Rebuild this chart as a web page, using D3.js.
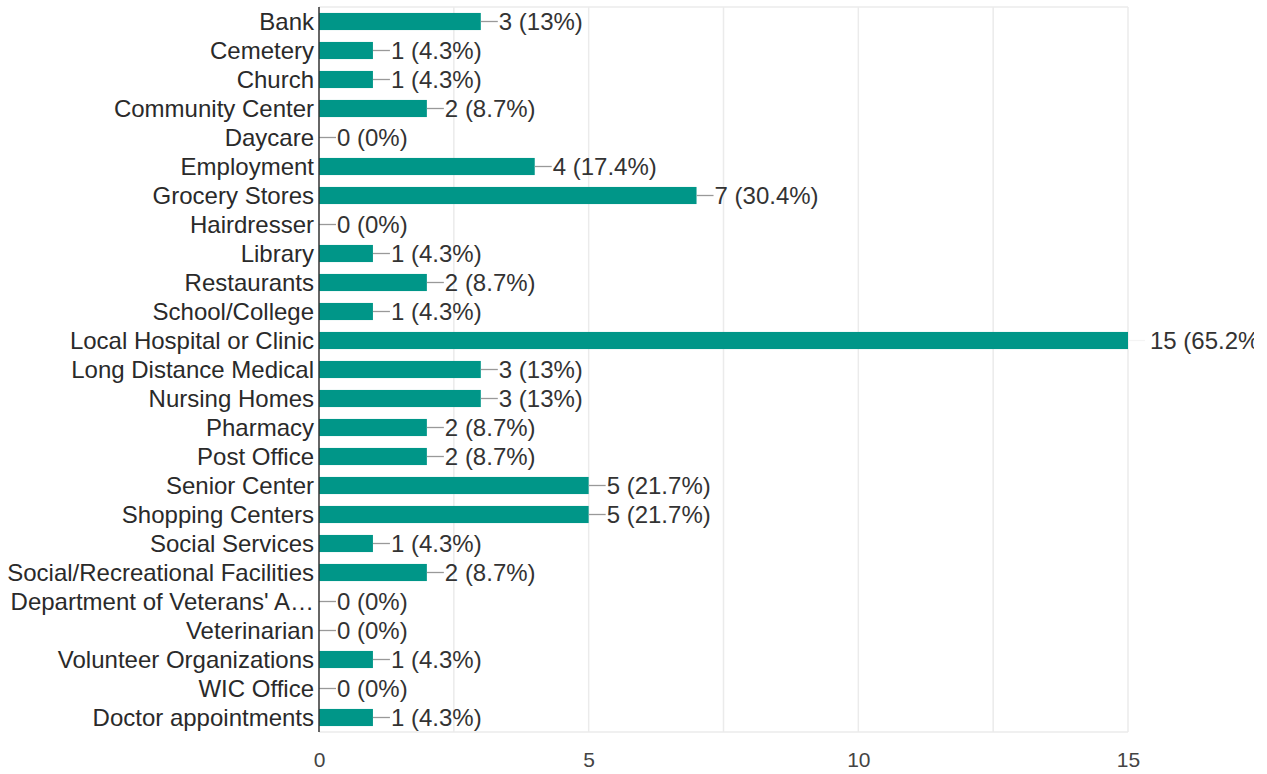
<!DOCTYPE html>
<html><head><meta charset="utf-8">
<script src="https://cdn.jsdelivr.net/npm/d3@7"></script>
<style>html,body{margin:0;padding:0;background:#fff;overflow:hidden}svg{display:block;font-family:"Liberation Sans",Arial,sans-serif}</style>
</head><body>
<svg id="c" width="1267" height="774"></svg>
<script>
const categories = ["Bank","Cemetery","Church","Community Center","Daycare","Employment","Grocery Stores","Hairdresser","Library","Restaurants","School/College","Local Hospital or Clinic","Long Distance Medical","Nursing Homes","Pharmacy","Post Office","Senior Center","Shopping Centers","Social Services","Social/Recreational Facilities","Department of Veterans' A…","Veterinarian","Volunteer Organizations","WIC Office","Doctor appointments"];
const counts = [3,1,1,2,0,4,7,0,1,2,1,15,3,3,2,2,5,5,1,2,0,0,1,0,1];
const percents = ["13%","4.3%","4.3%","8.7%","0%","17.4%","30.4%","0%","4.3%","8.7%","4.3%","65.2%","13%","13%","8.7%","8.7%","21.7%","21.7%","4.3%","8.7%","0%","0%","4.3%","0%","4.3%"];
const tickValues = [0,5,10,15];
const gridValues = [2.5,5,7.5,10,12.5,15];

const svg = d3.select("#c");
const pLeft = 319, pRight = 1128, pTop = 7, pBottom = 732;
const x = d3.scaleLinear().domain([0,15]).range([pLeft,pRight]);
const y = d3.scaleBand().domain(categories).range([pTop,pBottom]).paddingInner(0.41).paddingOuter(0.205);

svg.append("defs").append("clipPath").attr("id","clipR")
  .append("rect").attr("x",0).attr("y",0).attr("width",1254).attr("height",774);

// grid
svg.append("g").selectAll("line").data(gridValues).join("line")
  .attr("x1",d=>x(d)).attr("x2",d=>x(d)).attr("y1",pTop).attr("y2",pBottom)
  .attr("stroke","#ebebeb").attr("stroke-width",1.5);
svg.append("line").attr("x1",pLeft).attr("x2",pRight).attr("y1",pTop).attr("y2",pTop).attr("stroke","#ebebeb").attr("stroke-width",1.5);
svg.append("line").attr("x1",pLeft).attr("x2",pRight).attr("y1",pBottom).attr("y2",pBottom).attr("stroke","#ebebeb").attr("stroke-width",1.5);

// bars
const rows = categories.map((c,i)=>({c, v:counts[i], p:percents[i]}));
svg.append("g").selectAll("rect").data(rows).join("rect")
  .attr("x",x(0)).attr("y",d=>y(d.c)).attr("width",d=>x(d.v)-x(0)).attr("height",y.bandwidth())
  .attr("fill","#009688");

// leader lines and value labels
const g = svg.append("g").attr("clip-path","url(#clipR)");
g.selectAll("line").data(rows).join("line")
  .attr("x1",d=>x(d.v)).attr("x2",d=>x(d.v)+17)
  .attr("y1",d=>y(d.c)+y.bandwidth()/2).attr("y2",d=>y(d.c)+y.bandwidth()/2)
  .attr("stroke",d=>d.v===15?"#f4f4f4":"#999").attr("stroke-width",1.3);
g.selectAll("text").data(rows).join("text")
  .attr("x",d=>x(d.v)+(d.v===15?22:18)).attr("y",d=>y(d.c)+y.bandwidth()/2)
  .attr("dy","0.36em").attr("font-size",24).attr("fill","#333")
  .text(d=>`${d.v} (${d.p})`);

// category labels
svg.append("g").selectAll("text").data(categories).join("text")
  .attr("x",pLeft-5).attr("y",d=>y(d)+y.bandwidth()/2).attr("dy","0.36em")
  .attr("text-anchor","end").attr("font-size",24).attr("fill","#2a2a2a").text(d=>d);

// axis line
svg.append("line").attr("x1",pLeft).attr("x2",pLeft).attr("y1",pTop).attr("y2",pBottom).attr("stroke","#333").attr("stroke-width",1.5);

// x ticks
const xa = svg.append("g").attr("transform",`translate(0,${pBottom})`)
  .call(d3.axisBottom(x).tickValues(tickValues).tickSize(0).tickPadding(20));
xa.select(".domain").remove();
xa.selectAll("text").attr("font-size",21).attr("fill","#444").attr("font-family","Liberation Sans, Arial, sans-serif");
</script>
</body></html>
